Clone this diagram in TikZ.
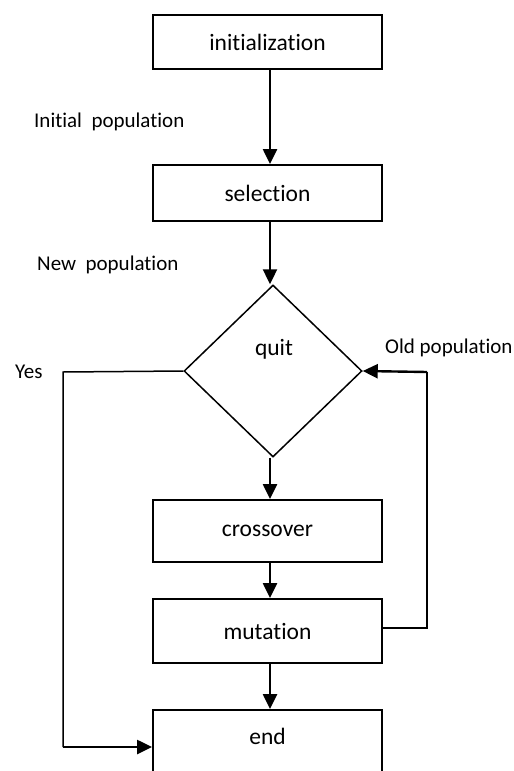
\documentclass[tikz,border=0pt]{standalone}
\usepackage{fontspec}
\setmainfont[Ligatures={NoCommon,NoContextual},RawFeature={-liga;-clig;-calt;-dlig}]{Carlito}
\usetikzlibrary{shapes.geometric,arrows.meta}
\begin{document}
\begin{tikzpicture}[x=1pt,y=-1pt,
  boxnode/.style={draw,line width=1.9pt,rectangle,minimum width=229pt,inner sep=0pt,font=\fontsize{23.5}{27}\selectfont},
  lbl/.style={font=\fontsize{21}{25}\selectfont,inner sep=0pt,anchor=west},
  arr/.style={line width=2.4pt,-{Triangle[length=15pt,width=14pt]}},
  thinline/.style={line width=1.5pt}]
\useasboundingbox (0,0) rectangle (514,771);
\node[boxnode,minimum height=54pt] (init) at (267.5,42) {initialization};
\node[boxnode,minimum height=56pt] (sel) at (267.5,193) {selection};
\node[draw,diamond,line width=1.5pt,minimum width=178pt,minimum height=172pt,inner sep=0pt] (q) at (273,371) {};
\node[font=\fontsize{23.5}{27}\selectfont,inner sep=0pt] (qt) at (274,349) {quit};
\node[boxnode,minimum height=62pt] (cross) at (267.5,531) {crossover};
\node[boxnode,minimum height=64pt] (mut) at (267.5,631) {mutation};
\node[boxnode,minimum height=72pt] (end) at (267.5,746) {};
\node[font=\fontsize{23.5}{27}\selectfont,inner sep=0pt] (endt) at (267.5,736) {end};
\node[lbl] (l1) at (34,122) {Initial\ \ population};
\node[lbl] (l2) at (37,265) {New\ \ population};
\node[lbl] (l3) at (15,372) {Yes};
\node[lbl] (l4) at (385,348) {Old population};
\coordinate (yc) at (63,372);
\coordinate (yd) at (63,747);
\coordinate (oc) at (427,628);
\coordinate (od) at (427,372);
\draw[arr] (init.south -| 270,0) -- (sel.north -| 270,0);
\draw[arr] (sel.south -| 270,0) -- (q.north -| 270,0);
\draw[arr] (q.south -| 270,0) -- (cross.north -| 270,0);
\draw[arr] (cross.south -| 270,0) -- (mut.north -| 270,0);
\draw[arr] (mut.south -| 270,0) -- (end.north -| 270,0);
\draw[thinline] (q.west) -- (yc) -- (yd);
\draw[arr] (yd) -- (yd -| end.west);
\draw[thinline] (mut.east |- oc) -- (oc) -- (od);
\draw[arr] (od) -- (q.east);
\end{tikzpicture}
\end{document}
